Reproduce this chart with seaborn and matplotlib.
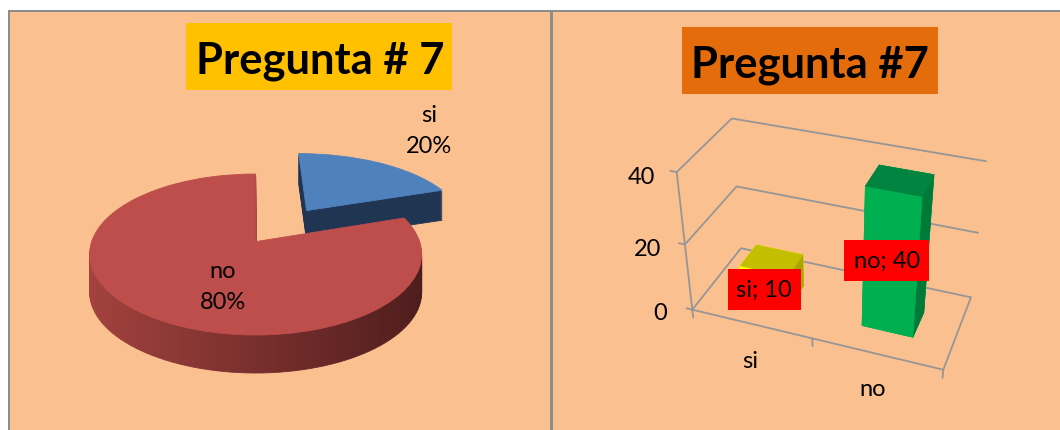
import matplotlib
matplotlib.use("Agg")
import matplotlib.pyplot as plt
import numpy as np
import seaborn as sns
from matplotlib.patches import Rectangle
from matplotlib.transforms import Affine2D, Transform

# pie
pie_labels = ["no", "si"]
pie_values = [80, 20]
# bars
bar_labels = ["si", "no"]
bar_values = [10, 40]
value_ticks = [0, 20, 40]

W, H = 1060, 430
BG = "#FBC090"
GREY = "#969696"

sns.set_theme(style="white", rc={"axes.facecolor": "none"})
plt.rcParams["font.family"] = ["Lato", "DejaVu Sans"]

fig = plt.figure(figsize=(W / 100, H / 100), dpi=100, facecolor="white")


def box(x0, y0, x1, y1, color, z=5):
    fig.add_artist(Rectangle((x0 / W, 1 - y1 / H), (x1 - x0) / W, (y1 - y0) / H, transform=fig.transFigure,
                             facecolor=color, edgecolor="none", zorder=z))


def label(x, y, s, **kw):
    kw.setdefault("fontsize", 17)
    fig.text(x / W, 1 - y / H, s, ha="center", va="center", color="black", zorder=6, linespacing=1.6, **kw)


# panels
box(8, 10, W, H, "#8C8C8C", z=-3)
box(10, 12, W, H, BG, z=-2)
box(550, 10, 553, H, "#8C8C8C", z=-1)

# titles
box(186, 23, 452, 90, "#FFC000")
label(320, 61, "Pregunta # 7", fontsize=31.3, fontweight="bold")
box(682, 27, 938, 94, "#E46C0A")
label(810, 65, "Pregunta #7", fontsize=31.3, fontweight="bold")


# slight perspective on the flat pie, so the far side looks narrower
class PieView(Transform):
    input_dims = output_dims = 2

    def transform_non_affine(self, values):
        x, y = values[:, 0], values[:, 1]
        return np.column_stack([x * (1 - 0.16 * y) + 0.018, y + 0.16 * (1 - y ** 2)])


cx, cy, rx, ry = 252.7, 254.5, 164, 80.5
pie_ax = fig.add_axes([0, 0, 1, 1])
view = PieView()


def pie_layer(values, colors, keep, drop_px=0, shift_px=0):
    wedges, _ = pie_ax.pie(values, colors=colors, explode=[0] * (len(values) - 1) + [0.51], startangle=90)
    for i, w in enumerate(wedges):
        if i not in keep:
            w.remove()
            continue
        w.set_edgecolor(w.get_facecolor())
        w.set_linewidth(0.6)
        w.set_transform(view + Affine2D().translate(shift_px / rx, -drop_px / ry) + pie_ax.transData)
    return wedges


n = 120
no_strips = [pie_values[0] / n] * n + [pie_values[1]]
ramp = sns.blend_palette(["#A5433F", "#4C1C1C"], n)
angles = np.radians(90 + (np.arange(n) + 0.5) * 288 / n)
strip_colors = [ramp[int((1 + np.cos(a)) / 2 * (n - 1))] for a in angles] + ["none"]

for d in range(30, 0, -2):
    pie_layer(pie_values, ["none", "#1F3552"], {1}, d, 5)
pie_layer(pie_values, ["none", "#4F81BD"], {1}, 0, 5)
for d in range(38, 0, -2):
    pie_layer(no_strips, strip_colors, set(range(n)), d)
pie_layer(pie_values, ["#BE4E4B", "none"], {0})

pie_ax.set(xlim=(-cx / rx, (W - cx) / rx), ylim=((cy - H) / ry, cy / ry), aspect="auto")
pie_ax.set_axis_off()

for (x, y), name, val in zip([(223, 287), (429, 131)], pie_labels, pie_values):
    label(x, y, f"{name}\n{val}%")

# 3d bars
S = 327
bar_ax = fig.add_axes([665 / W, 1 - (243 + S / 2) / H, S / W, S / H], projection="3d", computed_zorder=False)
bar_ax.set_proj_type("persp", focal_length=0.5)
bar_ax.set_box_aspect((264, 118, 162))
bar_ax.view_init(elev=34, azim=-70)
bar_ax.set_axis_off()
bar_ax.patch.set_alpha(0)

top = max(value_ticks)
line = {"color": GREY, "linewidth": 1.3, "zorder": 1}
for v in value_ticks:
    bar_ax.plot([0, 0, 2], [0, 1, 1], [v, v, v], **line)
    bar_ax.plot([-0.05, 0], [0, 0], [v, v], **line)
bar_ax.plot([0, 0], [0, 0], [0, top], **line)
bar_ax.plot([0, 2, 2], [0, 0, 1], [0, 0, 0], **line)
for i in range(len(bar_labels) + 1):
    bar_ax.plot([i, i], [0, 0], [0, -2.5], **line)

# faces: bottom, top, front, back, left, right
faces = {
    "si": ["#FFFF00", "#C4BE00", "#FFFF00", "#FFFF00", "#FFFF00", "#A8A400"],
    "no": ["#00B050", "#00843F", "#00B050", "#00B050", "#00B050", "#007A38"],
}
for i, (name, val) in enumerate(zip(bar_labels, bar_values)):
    bar_ax.bar3d(i + 0.3, 0.3, 0, 0.4, 0.35, val, color=faces[name], edgecolor=faces[name], linewidth=0.4,
                 shade=False, zorder=2 + i)
bar_ax.set(xlim=(0, 2), ylim=(0, 1), zlim=(0, top))

for x, y, v in zip([660, 648, 641], [314, 249, 178], value_ticks):
    label(x, y, str(v))
for (x, y), name in zip([(750, 361), (873, 390)], bar_labels):
    label(x, y, name)

box(728, 269, 801, 310, "#FF0000")
box(844, 240, 929, 281, "#FF0000")
for (x, y), name, val in zip([(764, 290), (887, 261)], bar_labels, bar_values):
    label(x, y, f"{name}; {val}")

fig.savefig("out.png", dpi=100, facecolor="white")
